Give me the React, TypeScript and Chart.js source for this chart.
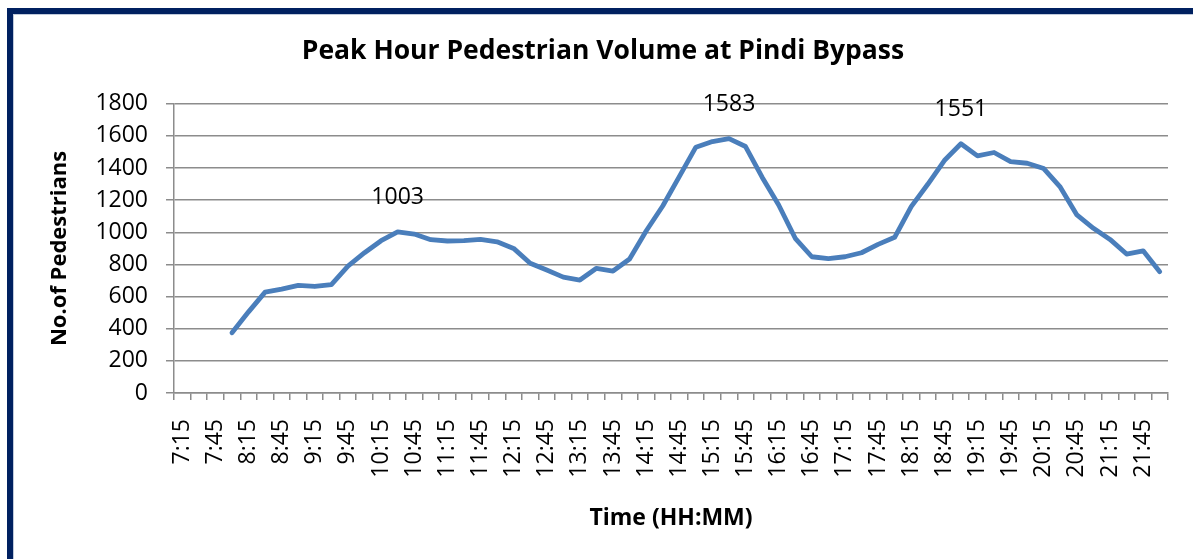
import React, { useEffect, useRef } from "react";
import { Chart, registerables } from "chart.js";

Chart.register(...registerables);

const categories: string[] = [
  "7:15", "7:30", "7:45", "8:00", "8:15", "8:30", "8:45", "9:00", "9:15", "9:30",
  "9:45", "10:00", "10:15", "10:30", "10:45", "11:00", "11:15", "11:30", "11:45", "12:00",
  "12:15", "12:30", "12:45", "13:00", "13:15", "13:30", "13:45", "14:00", "14:15", "14:30",
  "14:45", "15:00", "15:15", "15:30", "15:45", "16:00", "16:15", "16:30", "16:45", "17:00",
  "17:15", "17:30", "17:45", "18:00", "18:15", "18:30", "18:45", "19:00", "19:15", "19:30",
  "19:45", "20:00", "20:15", "20:30", "20:45", "21:00", "21:15", "21:30", "21:45", "22:00",
];

const pedestrians: (number | null)[] = [
  null, null, null, 375, 505, 628, 646, 670, 663, 675,
  790, 873, 948, 1003, 989, 954, 946, 948, 956, 941,
  900, 807, 765, 721, 703, 776, 759, 834, 1008, 1164,
  1347, 1530, 1565, 1583, 1534, 1343, 1170, 963, 848, 836,
  848, 873, 925, 969, 1160, 1299, 1447, 1551, 1476, 1497,
  1440, 1430, 1397, 1281, 1108, 1025, 956, 865, 885, 755,
];

const labelledTimes: string[] = ["10:30", "15:30", "19:00"];

const titleText = "Peak Hour Pedestrian Volume at Pindi Bypass";
const xTitle = "Time (HH:MM)";
const yTitle = "No.of Pedestrians";

const FONT = "'Open Sans', 'Noto Sans', sans-serif";

const xTickLabel = (idx: number) => (idx % 2 === 0 ? categories[idx] : "");

const peakLabelPlugin = {
  id: "peakLabels",
  afterDatasetsDraw(chart: any) {
    const ctx = chart.ctx;
    const meta = chart.getDatasetMeta(0);
    ctx.save();
    ctx.font = `23px ${FONT}`;
    ctx.fillStyle = "#000";
    ctx.textAlign = "center";
    ctx.textBaseline = "middle";
    labelledTimes.forEach((t) => {
      const i = categories.indexOf(t);
      const v = pedestrians[i];
      const pt = meta.data[i];
      if (pt && v != null) {
        ctx.fillText(String(v), pt.x, pt.y - 34);
      }
    });
    ctx.restore();
  },
};

const xLabelPlugin = {
  id: "xLabels",
  afterDraw(chart: any) {
    const ctx = chart.ctx;
    const sx = chart.scales.x;
    const top = sx.top + 26;
    ctx.save();
    ctx.font = `23px ${FONT}`;
    ctx.fillStyle = "#000";
    ctx.textAlign = "right";
    ctx.textBaseline = "middle";
    categories.forEach((_c, i) => {
      const text = xTickLabel(i);
      if (!text) return;
      const x = sx.getPixelForTick(i);
      ctx.save();
      ctx.translate(x, top);
      ctx.rotate(-Math.PI / 2);
      ctx.fillText(text, 0, 0);
      ctx.restore();
    });
    ctx.restore();
  },
};

export default function App() {
  const ref = useRef<HTMLCanvasElement | null>(null);

  useEffect(() => {
    if (!ref.current) return;
    const chart = new Chart(ref.current, {
      type: "line",
      data: {
        labels: categories,
        datasets: [
          {
            data: pedestrians,
            borderColor: "#4a7ebb",
            backgroundColor: "#4a7ebb",
            borderWidth: 4.8,
            pointRadius: 0,
            tension: 0,
            borderJoinStyle: "round",
            borderCapStyle: "round",
            spanGaps: false,
          },
        ],
      },
      options: {
        animation: false,
        responsive: true,
        maintainAspectRatio: false,
        layout: { padding: { left: 38, top: 0, right: 25, bottom: 0 } },
        plugins: {
          legend: { display: false },
          tooltip: { enabled: false },
          title: {
            display: true,
            text: titleText,
            color: "#000",
            font: { family: FONT, size: 26.5, weight: "bold" },
            padding: { top: 36, bottom: 36 },
          },
        },
        scales: {
          x: {
            type: "category",
            offset: true,
            afterFit: (s: any) => {
              s.height = 166;
              s.paddingLeft = 0;
              s.paddingRight = 0;
            },
            grid: {
              offset: true,
              drawOnChartArea: false,
              drawTicks: true,
              tickLength: 7,
              color: "#8c8c8c",
              lineWidth: 1.5,
            },
            border: { display: true, color: "#8c8c8c", width: 1.5 },
            ticks: {
              display: false,
              autoSkip: false,
            },
            title: {
              display: true,
              text: xTitle,
              color: "#000",
              font: { family: FONT, size: 23, weight: "bold" },
              padding: { top: 0, bottom: 27 },
            },
          },
          y: {
            min: 0,
            max: 1800,
            afterFit: (s: any) => {
              s.width = 136;
            },
            grid: {
              color: "#8c8c8c",
              lineWidth: 1.5,
              drawTicks: true,
              tickLength: 8,
            },
            border: { display: true, color: "#8c8c8c", width: 1.5 },
            ticks: {
              stepSize: 200,
              padding: 18,
              color: "#000",
              font: { family: FONT, size: 23 },
              callback: (v: any) => String(v),
            },
            title: {
              display: true,
              text: yTitle,
              color: "#000",
              font: { family: FONT, size: 22, weight: "bold" },
              padding: { top: 9, bottom: 0 },
            },
          },
        },
      },
      plugins: [peakLabelPlugin, xLabelPlugin],
    });
    return () => chart.destroy();
  }, []);

  return (
    <>
      <div
        style={{
          position: "fixed",
          left: 7,
          top: 8,
          right: -20,
          bottom: -20,
          borderTop: "6px solid #002060",
          borderLeft: "6px solid #002060",
          boxSizing: "border-box",
        }}
      >
        <div
          style={{
            position: "absolute",
            left: 0,
            top: 0,
            right: 0,
            bottom: 0,
            borderTop: "1px solid #c0cadb",
            borderLeft: "1px solid #c0cadb",
          }}
        />
      </div>
      <div style={{ position: "fixed", left: 0, top: 0, width: 1193, height: 559 }}>
        <canvas ref={ref} />
      </div>
    </>
  );
}
